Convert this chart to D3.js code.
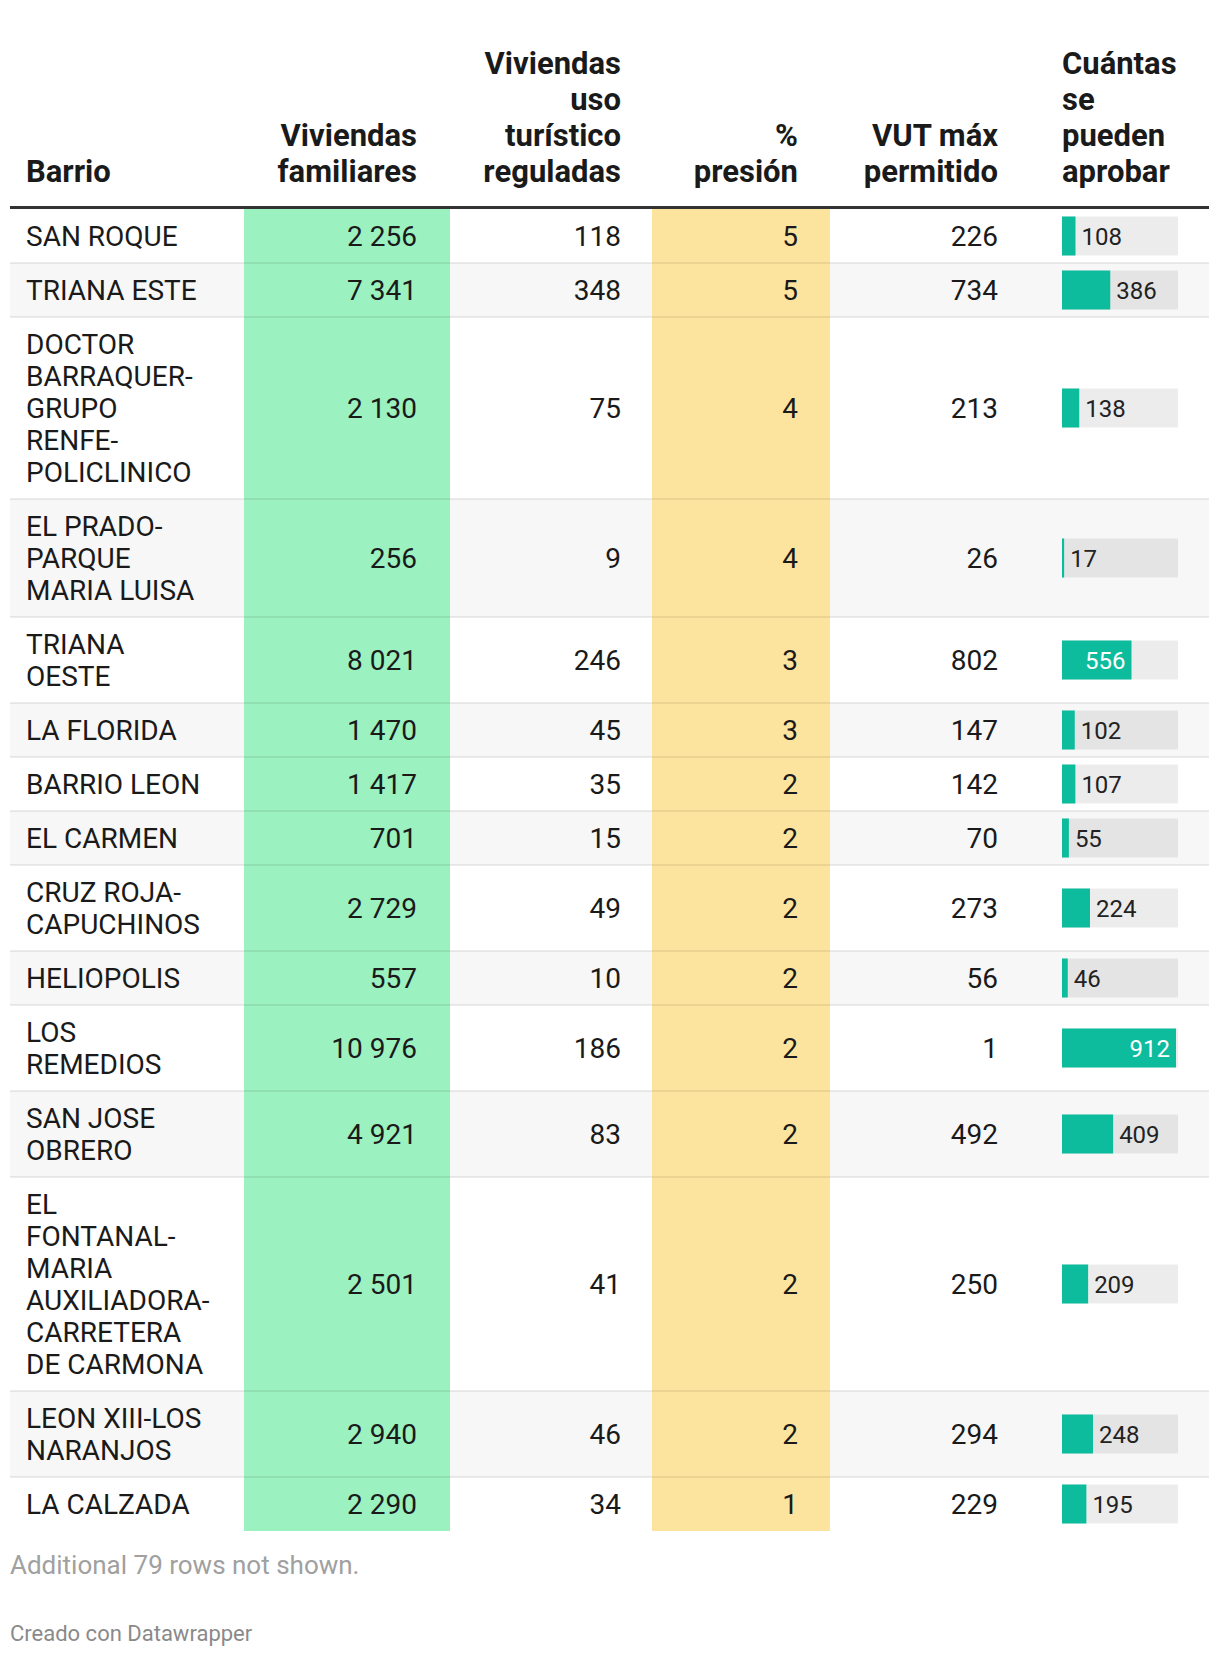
<!DOCTYPE html>
<html><head><meta charset="utf-8">
<script src="https://cdn.jsdelivr.net/npm/d3@7"></script>
<style>
body{margin:0;background:#fff;}
svg{display:block;font-family:Roboto, "Noto Sans", sans-serif;}
</style></head><body>
<svg id="chart" width="1220" height="1656"></svg>
<script>
// ---- data ----
const barrios = ["SAN ROQUE","TRIANA ESTE","DOCTOR BARRAQUER-GRUPO RENFE-POLICLINICO","EL PRADO-PARQUE MARIA LUISA","TRIANA OESTE","LA FLORIDA","BARRIO LEON","EL CARMEN","CRUZ ROJA-CAPUCHINOS","HELIOPOLIS","LOS REMEDIOS","SAN JOSE OBRERO","EL FONTANAL-MARIA AUXILIADORA-CARRETERA DE CARMONA","LEON XIII-LOS NARANJOS","LA CALZADA"];
const familiares = [2256,7341,2130,256,8021,1470,1417,701,2729,557,10976,4921,2501,2940,2290];
const reguladas = [118,348,75,9,246,45,35,15,49,10,186,83,41,46,34];
const presion = [5,5,4,4,3,3,2,2,2,2,2,2,2,2,1];
const maxPermitido = [226,734,213,26,802,147,142,70,273,56,1,492,250,294,229];
const aprobar = [108,386,138,17,556,102,107,55,224,46,912,409,209,248,195];
const headers = [["Barrio"],["Viviendas","familiares"],["Viviendas","uso","turístico","reguladas"],["%","presión"],["VUT máx","permitido"],["Cuántas","se","pueden","aprobar"]];
const footerNote = "Additional 79 rows not shown.";
const credit = "Creado con Datawrapper";

// ---- layout ----
const colEdges = [10,244,450,652,830,1030,1209];
const textRight = [null,417,621,798,998];
const padL0 = 16, padL5 = 32;
const bodyFont = 28, headFont = 31, lineH = 32, rowPad = 11;
const headerLineH = 36, headerBase = 182, ruleY = 206;
const wrapW = 180;
const textColor = "#1a1a1a";

const loc = d3.formatLocale({decimal:",", thousands:"\u00a0", grouping:[3], currency:["","€"]});
const fmt = loc.format(",d");

const svg = d3.select("#chart");

// measure + wrap
const meas = svg.append("text").attr("font-size", bodyFont).attr("x",-1000).attr("y",-1000);
function tw(s){ meas.text(s); return meas.node().getComputedTextLength(); }
function wrap(name){
  const pieces = [];
  name.split(" ").forEach((w,wi)=>{
    const parts = w.split(/(?<=-)/);
    parts.forEach((p,pi)=>pieces.push({t:p, sep:(pi===0 && wi>0)?" ":""}));
  });
  const lines=[]; let line="";
  pieces.forEach(p=>{
    if(line===""){ line=p.t; return; }
    const cand = line + p.sep + p.t;
    if(tw(cand) <= wrapW) line = cand; else { lines.push(line); line = p.t; }
  });
  if(line) lines.push(line);
  return lines;
}
const rows = barrios.map((b,i)=>({name:b, lines:wrap(b), i}));
meas.remove();
let y = ruleY + 3;
rows.forEach(r=>{ r.h = 2*rowPad + lineH*r.lines.length; r.y = y; y += r.h; });
const tableBottom = y;

// stripes
svg.append("g").selectAll("rect").data(rows.filter(r=>r.i%2===1)).join("rect")
  .attr("x", colEdges[0]).attr("width", colEdges[6]-colEdges[0])
  .attr("y", r=>r.y).attr("height", r=>r.h).attr("fill","#f7f7f7");

// highlighted columns
svg.append("rect").attr("x",colEdges[1]).attr("width",colEdges[2]-colEdges[1])
  .attr("y",ruleY+3).attr("height",tableBottom-ruleY-3).attr("fill","#9bf1c0");
svg.append("rect").attr("x",colEdges[3]).attr("width",colEdges[4]-colEdges[3])
  .attr("y",ruleY+3).attr("height",tableBottom-ruleY-3).attr("fill","#fde49e");

// separators
svg.append("g").selectAll("rect").data(rows.slice(0,-1)).join("rect")
  .attr("x",colEdges[0]).attr("width",colEdges[6]-colEdges[0])
  .attr("y",r=>r.y+r.h-1).attr("height",2).attr("fill","rgba(0,0,0,0.07)");

// header
const hg = svg.append("g").attr("font-weight","bold").attr("font-size",headFont).attr("fill",textColor);
headers.forEach((lines,ci)=>{
  const anchor = (ci===0||ci===5) ? "start" : "end";
  const x = ci===0 ? colEdges[0]+padL0 : ci===5 ? colEdges[5]+padL5 : textRight[ci];
  lines.forEach((l,li)=>{
    hg.append("text").attr("x",x).attr("y",headerBase - (lines.length-1-li)*headerLineH)
      .attr("text-anchor",anchor).text(l);
  });
});
svg.append("rect").attr("x",colEdges[0]).attr("width",colEdges[6]-colEdges[0])
  .attr("y",ruleY).attr("height",3).attr("fill","#333");

// body text
const bg = svg.append("g").attr("font-size",bodyFont).attr("fill",textColor);
rows.forEach(r=>{
  r.lines.forEach((l,li)=>{
    bg.append("text").attr("x",colEdges[0]+padL0).attr("y",r.y+rowPad+lineH*li+26).text(l);
  });
  const mid = r.y + r.h/2;
  const vals = [fmt(familiares[r.i]), fmt(reguladas[r.i]), fmt(presion[r.i]), fmt(maxPermitido[r.i])];
  vals.forEach((v,k)=>{
    bg.append("text").attr("x",textRight[k+1]).attr("y",mid+10).attr("text-anchor","end").text(v);
  });
});

// bars
const barX0 = colEdges[5]+padL5, barBgW = 116, barH = 39;
const xs = d3.scaleLinear().domain([0, d3.max(aprobar)]).range([0, 114]);
const barG = svg.append("g");
const labelFont = 24;
const meas2 = svg.append("text").attr("font-size",labelFont).attr("x",-1000);
rows.forEach(r=>{
  const mid = r.y + r.h/2, v = aprobar[r.i], w = xs(v);
  barG.append("rect").attr("x",barX0).attr("y",mid-barH/2).attr("width",barBgW).attr("height",barH).attr("fill","rgba(0,0,0,0.075)");
  barG.append("rect").attr("x",barX0).attr("y",mid-barH/2).attr("width",w).attr("height",barH).attr("fill","#0cbc9d");
  meas2.text(fmt(v)); const lw = meas2.node().getComputedTextLength();
  const inside = w > lw + 16;
  barG.append("text").attr("font-size",labelFont)
    .attr("x", inside ? barX0+w-6 : barX0+w+6).attr("y", mid+8.5)
    .attr("text-anchor", inside ? "end":"start")
    .attr("fill", inside ? "#fff" : "#222").text(fmt(v));
});
meas2.remove();

// footer
svg.append("text").attr("x",colEdges[0]).attr("y",tableBottom+43).attr("font-size",26).attr("fill","#a0a0a0").text(footerNote);
svg.append("text").attr("x",colEdges[0]).attr("y",tableBottom+110).attr("font-size",22).attr("fill","#8a8a8a").text(credit);
</script>
</body></html>
